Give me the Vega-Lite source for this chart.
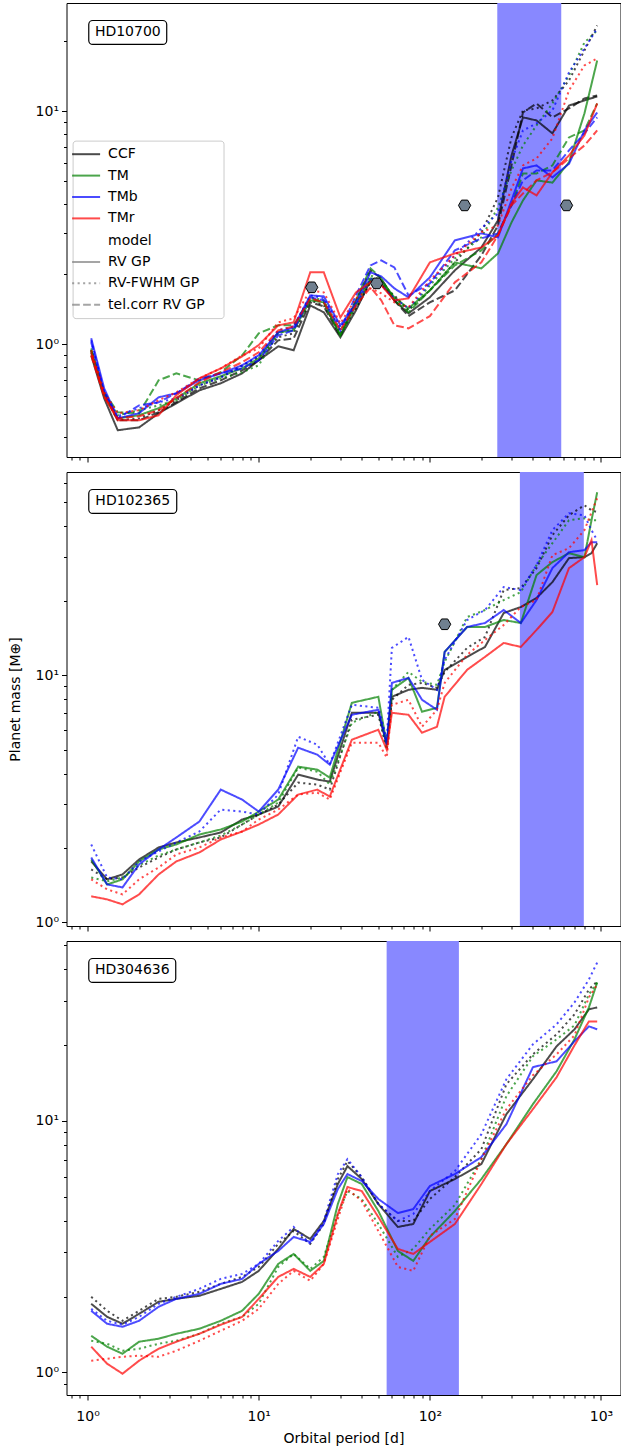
{
"$schema":"https://vega.github.io/schema/vega-lite/v6.json",
"padding":{"left":7.5,"top":2,"right":1,"bottom":2},
"autosize":{"type":"pad"},
"bounds":"flush",
"spacing":15,
"config":{"font":"DejaVu Sans","view":{"stroke":"black","strokeWidth":1},
"axis":{"grid":false,"domain":false,"tickColor":"black","tickWidth":1,"labelColor":"black","labelFontSize":14,"titleFontSize":14,"titleFontWeight":"normal","titleColor":"black","labelFlush":false,"labelOverlap":false}},
"datasets":{
"p1":[
{"p":1.05,"m":0.894,"s":"CCF","g":"r"},{"p":1.25,"m":0.584,"s":"CCF","g":"r"},{"p":1.5,"m":0.426,"s":"CCF","g":"r"},{"p":2,"m":0.438,"s":"CCF","g":"r"},{"p":2.6,"m":0.504,"s":"CCF","g":"r"},{"p":3.3,"m":0.556,"s":"CCF","g":"r"},{"p":4.5,"m":0.632,"s":"CCF","g":"r"},{"p":6,"m":0.678,"s":"CCF","g":"r"},{"p":8,"m":0.748,"s":"CCF","g":"r"},{"p":10,"m":0.851,"s":"CCF","g":"r"},{"p":13,"m":0.977,"s":"CCF","g":"r"},{"p":16,"m":0.94,"s":"CCF","g":"r"},{"p":20,"m":1.466,"s":"CCF","g":"r"},{"p":24,"m":1.369,"s":"CCF","g":"r"},{"p":30,"m":1.069,"s":"CCF","g":"r"},{"p":37,"m":1.396,"s":"CCF","g":"r"},{"p":45,"m":1.878,"s":"CCF","g":"r"},{"p":52,"m":1.823,"s":"CCF","g":"r"},{"p":62,"m":1.541,"s":"CCF","g":"r"},{"p":75,"m":1.355,"s":"CCF","g":"r"},{"p":100,"m":1.588,"s":"CCF","g":"r"},{"p":140,"m":2.074,"s":"CCF","g":"r"},{"p":200,"m":2.603,"s":"CCF","g":"r"},{"p":250,"m":3.401,"s":"CCF","g":"r"},{"p":300,"m":6.47,"s":"CCF","g":"r"},{"p":350,"m":9.43,"s":"CCF","g":"r"},{"p":420,"m":9.15,"s":"CCF","g":"r"},{"p":520,"m":8.05,"s":"CCF","g":"r"},{"p":650,"m":10.6,"s":"CCF","g":"r"},{"p":800,"m":11.15,"s":"CCF","g":"r"},{"p":950,"m":11.6,"s":"CCF","g":"r"},
{"p":1.05,"m":0.921,"s":"CCF","g":"f"},{"p":1.25,"m":0.602,"s":"CCF","g":"f"},{"p":1.5,"m":0.47,"s":"CCF","g":"f"},{"p":2,"m":0.479,"s":"CCF","g":"f"},{"p":2.6,"m":0.519,"s":"CCF","g":"f"},{"p":3.3,"m":0.573,"s":"CCF","g":"f"},{"p":4.5,"m":0.664,"s":"CCF","g":"f"},{"p":6,"m":0.719,"s":"CCF","g":"f"},{"p":8,"m":0.81,"s":"CCF","g":"f"},{"p":10,"m":0.877,"s":"CCF","g":"f"},{"p":13,"m":1.069,"s":"CCF","g":"f"},{"p":16,"m":1.112,"s":"CCF","g":"f"},{"p":20,"m":1.541,"s":"CCF","g":"f"},{"p":24,"m":1.466,"s":"CCF","g":"f"},{"p":30,"m":1.112,"s":"CCF","g":"f"},{"p":37,"m":1.424,"s":"CCF","g":"f"},{"p":45,"m":1.842,"s":"CCF","g":"f"},{"p":52,"m":1.788,"s":"CCF","g":"f"},{"p":62,"m":1.619,"s":"CCF","g":"f"},{"p":75,"m":1.396,"s":"CCF","g":"f"},{"p":100,"m":1.701,"s":"CCF","g":"f"},{"p":140,"m":2.244,"s":"CCF","g":"f"},{"p":200,"m":3.02,"s":"CCF","g":"f"},{"p":250,"m":4.268,"s":"CCF","g":"f"},{"p":300,"m":7.73,"s":"CCF","g":"f"},{"p":350,"m":10.1,"s":"CCF","g":"f"},{"p":420,"m":10.3,"s":"CCF","g":"f"},{"p":520,"m":11.15,"s":"CCF","g":"f"},{"p":650,"m":13.59,"s":"CCF","g":"f"},{"p":800,"m":18.29,"s":"CCF","g":"f"},{"p":950,"m":23.4,"s":"CCF","g":"f"},
{"p":1.05,"m":0.94,"s":"CCF","g":"t"},{"p":1.25,"m":0.614,"s":"CCF","g":"t"},{"p":1.5,"m":0.47,"s":"CCF","g":"t"},{"p":2,"m":0.47,"s":"CCF","g":"t"},{"p":2.6,"m":0.509,"s":"CCF","g":"t"},{"p":3.3,"m":0.562,"s":"CCF","g":"t"},{"p":4.5,"m":0.645,"s":"CCF","g":"t"},{"p":6,"m":0.698,"s":"CCF","g":"t"},{"p":8,"m":0.771,"s":"CCF","g":"t"},{"p":10,"m":0.851,"s":"CCF","g":"t"},{"p":13,"m":1.037,"s":"CCF","g":"t"},{"p":16,"m":1.058,"s":"CCF","g":"t"},{"p":20,"m":1.511,"s":"CCF","g":"t"},{"p":24,"m":1.452,"s":"CCF","g":"t"},{"p":30,"m":1.079,"s":"CCF","g":"t"},{"p":37,"m":1.541,"s":"CCF","g":"t"},{"p":45,"m":2.074,"s":"CCF","g":"t"},{"p":52,"m":1.916,"s":"CCF","g":"t"},{"p":62,"m":1.541,"s":"CCF","g":"t"},{"p":75,"m":1.318,"s":"CCF","g":"t"},{"p":100,"m":1.511,"s":"CCF","g":"t"},{"p":140,"m":1.701,"s":"CCF","g":"t"},{"p":200,"m":2.405,"s":"CCF","g":"t"},{"p":250,"m":3.237,"s":"CCF","g":"t"},{"p":300,"m":5.862,"s":"CCF","g":"t"},{"p":350,"m":9.9,"s":"CCF","g":"t"},{"p":420,"m":10.82,"s":"CCF","g":"t"},{"p":520,"m":9.43,"s":"CCF","g":"t"},{"p":650,"m":10.3,"s":"CCF","g":"t"},{"p":800,"m":11.37,"s":"CCF","g":"t"},{"p":950,"m":11.72,"s":"CCF","g":"t"},
{"p":1.05,"m":0.94,"s":"TM","g":"r"},{"p":1.25,"m":0.602,"s":"TM","g":"r"},{"p":1.5,"m":0.479,"s":"TM","g":"r"},{"p":2,"m":0.494,"s":"TM","g":"r"},{"p":2.6,"m":0.53,"s":"TM","g":"r"},{"p":3.3,"m":0.584,"s":"TM","g":"r"},{"p":4.5,"m":0.678,"s":"TM","g":"r"},{"p":6,"m":0.727,"s":"TM","g":"r"},{"p":8,"m":0.786,"s":"TM","g":"r"},{"p":10,"m":0.868,"s":"TM","g":"r"},{"p":13,"m":1.123,"s":"TM","g":"r"},{"p":16,"m":1.145,"s":"TM","g":"r"},{"p":20,"m":1.541,"s":"TM","g":"r"},{"p":24,"m":1.511,"s":"TM","g":"r"},{"p":30,"m":1.09,"s":"TM","g":"r"},{"p":37,"m":1.466,"s":"TM","g":"r"},{"p":45,"m":1.916,"s":"TM","g":"r"},{"p":52,"m":1.878,"s":"TM","g":"r"},{"p":62,"m":1.588,"s":"TM","g":"r"},{"p":75,"m":1.424,"s":"TM","g":"r"},{"p":100,"m":1.701,"s":"TM","g":"r"},{"p":140,"m":2.244,"s":"TM","g":"r"},{"p":200,"m":2.114,"s":"TM","g":"r"},{"p":250,"m":2.453,"s":"TM","g":"r"},{"p":300,"m":3.334,"s":"TM","g":"r"},{"p":350,"m":4.145,"s":"TM","g":"r"},{"p":420,"m":5.052,"s":"TM","g":"r"},{"p":520,"m":4.943,"s":"TM","g":"r"},{"p":650,"m":6.04,"s":"TM","g":"r"},{"p":800,"m":9.8,"s":"TM","g":"r"},{"p":950,"m":16.56,"s":"TM","g":"r"},
{"p":1.05,"m":0.958,"s":"TM","g":"f"},{"p":1.25,"m":0.62,"s":"TM","g":"f"},{"p":1.5,"m":0.494,"s":"TM","g":"f"},{"p":2,"m":0.519,"s":"TM","g":"f"},{"p":2.6,"m":0.545,"s":"TM","g":"f"},{"p":3.3,"m":0.573,"s":"TM","g":"f"},{"p":4.5,"m":0.664,"s":"TM","g":"f"},{"p":6,"m":0.712,"s":"TM","g":"f"},{"p":8,"m":0.756,"s":"TM","g":"f"},{"p":10,"m":0.81,"s":"TM","g":"f"},{"p":13,"m":1.112,"s":"TM","g":"f"},{"p":16,"m":1.168,"s":"TM","g":"f"},{"p":20,"m":1.588,"s":"TM","g":"f"},{"p":24,"m":1.541,"s":"TM","g":"f"},{"p":30,"m":1.145,"s":"TM","g":"f"},{"p":37,"m":1.496,"s":"TM","g":"f"},{"p":45,"m":1.974,"s":"TM","g":"f"},{"p":52,"m":1.878,"s":"TM","g":"f"},{"p":62,"m":1.588,"s":"TM","g":"f"},{"p":75,"m":1.396,"s":"TM","g":"f"},{"p":100,"m":1.788,"s":"TM","g":"f"},{"p":140,"m":2.335,"s":"TM","g":"f"},{"p":200,"m":2.874,"s":"TM","g":"f"},{"p":250,"m":3.868,"s":"TM","g":"f"},{"p":300,"m":5.578,"s":"TM","g":"f"},{"p":350,"m":7.14,"s":"TM","g":"f"},{"p":420,"m":8.71,"s":"TM","g":"f"},{"p":520,"m":10.82,"s":"TM","g":"f"},{"p":650,"m":14.28,"s":"TM","g":"f"},{"p":800,"m":19.79,"s":"TM","g":"f"},{"p":950,"m":22.29,"s":"TM","g":"f"},
{"p":1.05,"m":0.94,"s":"TM","g":"t"},{"p":1.25,"m":0.62,"s":"TM","g":"t"},{"p":1.5,"m":0.509,"s":"TM","g":"t"},{"p":2,"m":0.504,"s":"TM","g":"t"},{"p":2.6,"m":0.698,"s":"TM","g":"t"},{"p":3.3,"m":0.748,"s":"TM","g":"t"},{"p":4.5,"m":0.698,"s":"TM","g":"t"},{"p":6,"m":0.756,"s":"TM","g":"t"},{"p":8,"m":0.894,"s":"TM","g":"t"},{"p":10,"m":1.112,"s":"TM","g":"t"},{"p":13,"m":1.203,"s":"TM","g":"t"},{"p":16,"m":1.203,"s":"TM","g":"t"},{"p":20,"m":1.572,"s":"TM","g":"t"},{"p":24,"m":1.511,"s":"TM","g":"t"},{"p":30,"m":1.09,"s":"TM","g":"t"},{"p":37,"m":1.541,"s":"TM","g":"t"},{"p":45,"m":2.114,"s":"TM","g":"t"},{"p":52,"m":1.916,"s":"TM","g":"t"},{"p":62,"m":1.541,"s":"TM","g":"t"},{"p":75,"m":1.369,"s":"TM","g":"t"},{"p":100,"m":1.701,"s":"TM","g":"t"},{"p":140,"m":2.178,"s":"TM","g":"t"},{"p":200,"m":2.527,"s":"TM","g":"t"},{"p":250,"m":2.99,"s":"TM","g":"t"},{"p":300,"m":3.946,"s":"TM","g":"t"},{"p":350,"m":5.415,"s":"TM","g":"t"},{"p":420,"m":5.415,"s":"TM","g":"t"},{"p":520,"m":5.862,"s":"TM","g":"t"},{"p":650,"m":7.73,"s":"TM","g":"t"},{"p":800,"m":8.287,"s":"TM","g":"t"},{"p":950,"m":10.82,"s":"TM","g":"t"},
{"p":1.05,"m":1.058,"s":"TMb","g":"r"},{"p":1.25,"m":0.645,"s":"TMb","g":"r"},{"p":1.5,"m":0.479,"s":"TMb","g":"r"},{"p":2,"m":0.504,"s":"TMb","g":"r"},{"p":2.6,"m":0.59,"s":"TMb","g":"r"},{"p":3.3,"m":0.614,"s":"TMb","g":"r"},{"p":4.5,"m":0.698,"s":"TMb","g":"r"},{"p":6,"m":0.748,"s":"TMb","g":"r"},{"p":8,"m":0.81,"s":"TMb","g":"r"},{"p":10,"m":0.894,"s":"TMb","g":"r"},{"p":13,"m":1.123,"s":"TMb","g":"r"},{"p":16,"m":1.18,"s":"TMb","g":"r"},{"p":20,"m":1.619,"s":"TMb","g":"r"},{"p":24,"m":1.603,"s":"TMb","g":"r"},{"p":30,"m":1.203,"s":"TMb","g":"r"},{"p":37,"m":1.496,"s":"TMb","g":"r"},{"p":45,"m":2.033,"s":"TMb","g":"r"},{"p":52,"m":1.954,"s":"TMb","g":"r"},{"p":62,"m":1.735,"s":"TMb","g":"r"},{"p":75,"m":1.588,"s":"TMb","g":"r"},{"p":100,"m":1.935,"s":"TMb","g":"r"},{"p":140,"m":2.791,"s":"TMb","g":"r"},{"p":200,"m":2.99,"s":"TMb","g":"r"},{"p":250,"m":2.874,"s":"TMb","g":"r"},{"p":300,"m":4.145,"s":"TMb","g":"r"},{"p":350,"m":5.69,"s":"TMb","g":"r"},{"p":420,"m":5.862,"s":"TMb","g":"r"},{"p":520,"m":5.205,"s":"TMb","g":"r"},{"p":650,"m":5.955,"s":"TMb","g":"r"},{"p":800,"m":8.287,"s":"TMb","g":"r"},{"p":950,"m":9.9,"s":"TMb","g":"r"},
{"p":1.05,"m":1.037,"s":"TMb","g":"f"},{"p":1.25,"m":0.62,"s":"TMb","g":"f"},{"p":1.5,"m":0.489,"s":"TMb","g":"f"},{"p":2,"m":0.53,"s":"TMb","g":"f"},{"p":2.6,"m":0.562,"s":"TMb","g":"f"},{"p":3.3,"m":0.584,"s":"TMb","g":"f"},{"p":4.5,"m":0.664,"s":"TMb","g":"f"},{"p":6,"m":0.719,"s":"TMb","g":"f"},{"p":8,"m":0.802,"s":"TMb","g":"f"},{"p":10,"m":0.894,"s":"TMb","g":"f"},{"p":13,"m":1.145,"s":"TMb","g":"f"},{"p":16,"m":1.191,"s":"TMb","g":"f"},{"p":20,"m":1.619,"s":"TMb","g":"f"},{"p":24,"m":1.572,"s":"TMb","g":"f"},{"p":30,"m":1.18,"s":"TMb","g":"f"},{"p":37,"m":1.466,"s":"TMb","g":"f"},{"p":45,"m":1.916,"s":"TMb","g":"f"},{"p":52,"m":1.788,"s":"TMb","g":"f"},{"p":62,"m":1.572,"s":"TMb","g":"f"},{"p":75,"m":1.424,"s":"TMb","g":"f"},{"p":100,"m":1.823,"s":"TMb","g":"f"},{"p":140,"m":2.405,"s":"TMb","g":"f"},{"p":200,"m":3.142,"s":"TMb","g":"f"},{"p":250,"m":3.645,"s":"TMb","g":"f"},{"p":300,"m":6.157,"s":"TMb","g":"f"},{"p":350,"m":8.287,"s":"TMb","g":"f"},{"p":420,"m":8.88,"s":"TMb","g":"f"},{"p":520,"m":10.1,"s":"TMb","g":"f"},{"p":650,"m":14.71,"s":"TMb","g":"f"},{"p":800,"m":18.65,"s":"TMb","g":"f"},{"p":950,"m":22.74,"s":"TMb","g":"f"},
{"p":1.05,"m":1.017,"s":"TMb","g":"t"},{"p":1.25,"m":0.62,"s":"TMb","g":"t"},{"p":1.5,"m":0.479,"s":"TMb","g":"t"},{"p":2,"m":0.545,"s":"TMb","g":"t"},{"p":2.6,"m":0.562,"s":"TMb","g":"t"},{"p":3.3,"m":0.614,"s":"TMb","g":"t"},{"p":4.5,"m":0.712,"s":"TMb","g":"t"},{"p":6,"m":0.748,"s":"TMb","g":"t"},{"p":8,"m":0.786,"s":"TMb","g":"t"},{"p":10,"m":0.851,"s":"TMb","g":"t"},{"p":13,"m":1.09,"s":"TMb","g":"t"},{"p":16,"m":1.145,"s":"TMb","g":"t"},{"p":20,"m":1.588,"s":"TMb","g":"t"},{"p":24,"m":1.541,"s":"TMb","g":"t"},{"p":30,"m":1.145,"s":"TMb","g":"t"},{"p":37,"m":1.619,"s":"TMb","g":"t"},{"p":45,"m":2.178,"s":"TMb","g":"t"},{"p":52,"m":2.289,"s":"TMb","g":"t"},{"p":62,"m":2.136,"s":"TMb","g":"t"},{"p":75,"m":1.619,"s":"TMb","g":"t"},{"p":100,"m":1.823,"s":"TMb","g":"t"},{"p":140,"m":2.527,"s":"TMb","g":"t"},{"p":200,"m":2.846,"s":"TMb","g":"t"},{"p":250,"m":2.99,"s":"TMb","g":"t"},{"p":300,"m":3.946,"s":"TMb","g":"t"},{"p":350,"m":5.052,"s":"TMb","g":"t"},{"p":420,"m":5.578,"s":"TMb","g":"t"},{"p":520,"m":5.578,"s":"TMb","g":"t"},{"p":650,"m":6.798,"s":"TMb","g":"t"},{"p":800,"m":8.05,"s":"TMb","g":"t"},{"p":950,"m":9.43,"s":"TMb","g":"t"},
{"p":1.05,"m":0.921,"s":"TMr","g":"r"},{"p":1.25,"m":0.596,"s":"TMr","g":"r"},{"p":1.5,"m":0.47,"s":"TMr","g":"r"},{"p":2,"m":0.47,"s":"TMr","g":"r"},{"p":2.6,"m":0.494,"s":"TMr","g":"r"},{"p":3.3,"m":0.602,"s":"TMr","g":"r"},{"p":4.5,"m":0.712,"s":"TMr","g":"r"},{"p":6,"m":0.786,"s":"TMr","g":"r"},{"p":8,"m":0.885,"s":"TMr","g":"r"},{"p":10,"m":0.99,"s":"TMr","g":"r"},{"p":13,"m":1.203,"s":"TMr","g":"r"},{"p":16,"m":1.24,"s":"TMr","g":"r"},{"p":20,"m":2.033,"s":"TMr","g":"r"},{"p":24,"m":2.033,"s":"TMr","g":"r"},{"p":30,"m":1.3,"s":"TMr","g":"r"},{"p":37,"m":1.668,"s":"TMr","g":"r"},{"p":45,"m":1.842,"s":"TMr","g":"r"},{"p":52,"m":1.788,"s":"TMr","g":"r"},{"p":62,"m":1.541,"s":"TMr","g":"r"},{"p":75,"m":1.572,"s":"TMr","g":"r"},{"p":100,"m":2.244,"s":"TMr","g":"r"},{"p":140,"m":2.453,"s":"TMr","g":"r"},{"p":200,"m":2.603,"s":"TMr","g":"r"},{"p":250,"m":2.932,"s":"TMr","g":"r"},{"p":300,"m":4.024,"s":"TMr","g":"r"},{"p":350,"m":4.714,"s":"TMr","g":"r"},{"p":420,"m":4.355,"s":"TMr","g":"r"},{"p":520,"m":5.47,"s":"TMr","g":"r"},{"p":650,"m":6.47,"s":"TMr","g":"r"},{"p":800,"m":7.88,"s":"TMr","g":"r"},{"p":950,"m":10.82,"s":"TMr","g":"r"},
{"p":1.05,"m":0.94,"s":"TMr","g":"f"},{"p":1.25,"m":0.62,"s":"TMr","g":"f"},{"p":1.5,"m":0.504,"s":"TMr","g":"f"},{"p":2,"m":0.519,"s":"TMr","g":"f"},{"p":2.6,"m":0.573,"s":"TMr","g":"f"},{"p":3.3,"m":0.62,"s":"TMr","g":"f"},{"p":4.5,"m":0.712,"s":"TMr","g":"f"},{"p":6,"m":0.786,"s":"TMr","g":"f"},{"p":8,"m":0.894,"s":"TMr","g":"f"},{"p":10,"m":0.958,"s":"TMr","g":"f"},{"p":13,"m":1.24,"s":"TMr","g":"f"},{"p":16,"m":1.289,"s":"TMr","g":"f"},{"p":20,"m":1.701,"s":"TMr","g":"f"},{"p":24,"m":1.668,"s":"TMr","g":"f"},{"p":30,"m":1.227,"s":"TMr","g":"f"},{"p":37,"m":1.572,"s":"TMr","g":"f"},{"p":45,"m":1.735,"s":"TMr","g":"f"},{"p":52,"m":1.652,"s":"TMr","g":"f"},{"p":62,"m":1.511,"s":"TMr","g":"f"},{"p":75,"m":1.438,"s":"TMr","g":"f"},{"p":100,"m":1.878,"s":"TMr","g":"f"},{"p":140,"m":2.405,"s":"TMr","g":"f"},{"p":200,"m":3.02,"s":"TMr","g":"f"},{"p":250,"m":3.237,"s":"TMr","g":"f"},{"p":300,"m":4.668,"s":"TMr","g":"f"},{"p":350,"m":5.862,"s":"TMr","g":"f"},{"p":420,"m":6.28,"s":"TMr","g":"f"},{"p":520,"m":7.66,"s":"TMr","g":"f"},{"p":650,"m":12.31,"s":"TMr","g":"f"},{"p":800,"m":15.76,"s":"TMr","g":"f"},{"p":950,"m":16.9,"s":"TMr","g":"f"},
{"p":1.05,"m":0.894,"s":"TMr","g":"t"},{"p":1.25,"m":0.596,"s":"TMr","g":"t"},{"p":1.5,"m":0.479,"s":"TMr","g":"t"},{"p":2,"m":0.489,"s":"TMr","g":"t"},{"p":2.6,"m":0.519,"s":"TMr","g":"t"},{"p":3.3,"m":0.584,"s":"TMr","g":"t"},{"p":4.5,"m":0.685,"s":"TMr","g":"t"},{"p":6,"m":0.756,"s":"TMr","g":"t"},{"p":8,"m":0.835,"s":"TMr","g":"t"},{"p":10,"m":0.921,"s":"TMr","g":"t"},{"p":13,"m":1.145,"s":"TMr","g":"t"},{"p":16,"m":1.191,"s":"TMr","g":"t"},{"p":20,"m":1.572,"s":"TMr","g":"t"},{"p":24,"m":1.511,"s":"TMr","g":"t"},{"p":30,"m":1.145,"s":"TMr","g":"t"},{"p":37,"m":1.466,"s":"TMr","g":"t"},{"p":45,"m":1.753,"s":"TMr","g":"t"},{"p":52,"m":1.541,"s":"TMr","g":"t"},{"p":62,"m":1.203,"s":"TMr","g":"t"},{"p":75,"m":1.168,"s":"TMr","g":"t"},{"p":100,"m":1.318,"s":"TMr","g":"t"},{"p":140,"m":1.842,"s":"TMr","g":"t"},{"p":200,"m":2.244,"s":"TMr","g":"t"},{"p":250,"m":2.932,"s":"TMr","g":"t"},{"p":300,"m":3.946,"s":"TMr","g":"t"},{"p":350,"m":4.44,"s":"TMr","g":"t"},{"p":420,"m":5.052,"s":"TMr","g":"t"},{"p":520,"m":5.47,"s":"TMr","g":"t"},{"p":650,"m":6.28,"s":"TMr","g":"t"},{"p":800,"m":7.14,"s":"TMr","g":"t"},{"p":950,"m":8.287,"s":"TMr","g":"t"}
],
"p2":[
{"p":1.05,"m":1.763,"s":"CCF","g":"r"},{"p":1.3,"m":1.492,"s":"CCF","g":"r"},{"p":1.6,"m":1.562,"s":"CCF","g":"r"},{"p":2,"m":1.796,"s":"CCF","g":"r"},{"p":2.6,"m":2.008,"s":"CCF","g":"r"},{"p":3.3,"m":2.104,"s":"CCF","g":"r"},{"p":4.5,"m":2.204,"s":"CCF","g":"r"},{"p":6,"m":2.309,"s":"CCF","g":"r"},{"p":8,"m":2.605,"s":"CCF","g":"r"},{"p":10,"m":2.729,"s":"CCF","g":"r"},{"p":13,"m":2.94,"s":"CCF","g":"r"},{"p":17,"m":3.958,"s":"CCF","g":"r"},{"p":22,"m":3.779,"s":"CCF","g":"r"},{"p":26,"m":3.709,"s":"CCF","g":"r"},{"p":35,"m":7.044,"s":"CCF","g":"r"},{"p":50,"m":7.044,"s":"CCF","g":"r"},{"p":56,"m":5.231,"s":"CCF","g":"r"},{"p":60,"m":8.175,"s":"CCF","g":"r"},{"p":75,"m":8.724,"s":"CCF","g":"r"},{"p":90,"m":8.887,"s":"CCF","g":"r"},{"p":110,"m":8.724,"s":"CCF","g":"r"},{"p":122,"m":10.51,"s":"CCF","g":"r"},{"p":165,"m":11.86,"s":"CCF","g":"r"},{"p":210,"m":13.01,"s":"CCF","g":"r"},{"p":270,"m":17.84,"s":"CCF","g":"r"},{"p":340,"m":18.87,"s":"CCF","g":"r"},{"p":420,"m":20.52,"s":"CCF","g":"r"},{"p":520,"m":23.8,"s":"CCF","g":"r"},{"p":650,"m":29.76,"s":"CCF","g":"r"},{"p":800,"m":30.03,"s":"CCF","g":"r"},{"p":880,"m":31.17,"s":"CCF","g":"r"},{"p":950,"m":34.21,"s":"CCF","g":"r"},
{"p":1.05,"m":1.637,"s":"CCF","g":"f"},{"p":1.3,"m":1.492,"s":"CCF","g":"f"},{"p":1.6,"m":1.519,"s":"CCF","g":"f"},{"p":2,"m":1.667,"s":"CCF","g":"f"},{"p":2.6,"m":1.83,"s":"CCF","g":"f"},{"p":3.3,"m":1.971,"s":"CCF","g":"f"},{"p":4.5,"m":2.104,"s":"CCF","g":"f"},{"p":6,"m":2.204,"s":"CCF","g":"f"},{"p":8,"m":2.487,"s":"CCF","g":"f"},{"p":10,"m":2.729,"s":"CCF","g":"f"},{"p":13,"m":2.995,"s":"CCF","g":"f"},{"p":17,"m":3.674,"s":"CCF","g":"f"},{"p":22,"m":3.607,"s":"CCF","g":"f"},{"p":26,"m":3.443,"s":"CCF","g":"f"},{"p":35,"m":6.601,"s":"CCF","g":"f"},{"p":50,"m":6.914,"s":"CCF","g":"f"},{"p":56,"m":4.994,"s":"CCF","g":"f"},{"p":60,"m":7.95,"s":"CCF","g":"f"},{"p":75,"m":9.138,"s":"CCF","g":"f"},{"p":90,"m":9.309,"s":"CCF","g":"f"},{"p":110,"m":8.887,"s":"CCF","g":"f"},{"p":122,"m":10.31,"s":"CCF","g":"f"},{"p":165,"m":12.89,"s":"CCF","g":"f"},{"p":210,"m":14.28,"s":"CCF","g":"f"},{"p":270,"m":22.1,"s":"CCF","g":"f"},{"p":340,"m":22.51,"s":"CCF","g":"f"},{"p":420,"m":27.12,"s":"CCF","g":"f"},{"p":520,"m":36.85,"s":"CCF","g":"f"},{"p":650,"m":44.38,"s":"CCF","g":"f"},{"p":800,"m":48.7,"s":"CCF","g":"f"},{"p":880,"m":46.49,"s":"CCF","g":"f"},{"p":950,"m":45.64,"s":"CCF","g":"f"},
{"p":1.05,"m":1.796,"s":"TM","g":"r"},{"p":1.3,"m":1.423,"s":"TM","g":"r"},{"p":1.6,"m":1.492,"s":"TM","g":"r"},{"p":2,"m":1.763,"s":"TM","g":"r"},{"p":2.6,"m":1.971,"s":"TM","g":"r"},{"p":3.3,"m":2.065,"s":"TM","g":"r"},{"p":4.5,"m":2.266,"s":"TM","g":"r"},{"p":6,"m":2.374,"s":"TM","g":"r"},{"p":8,"m":2.557,"s":"TM","g":"r"},{"p":10,"m":2.806,"s":"TM","g":"r"},{"p":13,"m":3.137,"s":"TM","g":"r"},{"p":17,"m":4.264,"s":"TM","g":"r"},{"p":22,"m":4.147,"s":"TM","g":"r"},{"p":26,"m":3.849,"s":"TM","g":"r"},{"p":35,"m":7.73,"s":"TM","g":"r"},{"p":50,"m":8.175,"s":"TM","g":"r"},{"p":56,"m":5.231,"s":"TM","g":"r"},{"p":60,"m":8.724,"s":"TM","g":"r"},{"p":75,"m":9.752,"s":"TM","g":"r"},{"p":90,"m":7.11,"s":"TM","g":"r"},{"p":110,"m":7.379,"s":"TM","g":"r"},{"p":122,"m":12.42,"s":"TM","g":"r"},{"p":165,"m":15.67,"s":"TM","g":"r"},{"p":210,"m":15.67,"s":"TM","g":"r"},{"p":270,"m":16.72,"s":"TM","g":"r"},{"p":340,"m":16.26,"s":"TM","g":"r"},{"p":420,"m":25.41,"s":"TM","g":"r"},{"p":520,"m":28.67,"s":"TM","g":"r"},{"p":650,"m":31.17,"s":"TM","g":"r"},{"p":800,"m":30.03,"s":"TM","g":"r"},{"p":880,"m":42.36,"s":"TM","g":"r"},{"p":950,"m":54.95,"s":"TM","g":"r"},
{"p":1.05,"m":1.519,"s":"TM","g":"f"},{"p":1.3,"m":1.464,"s":"TM","g":"f"},{"p":1.6,"m":1.519,"s":"TM","g":"f"},{"p":2,"m":1.699,"s":"TM","g":"f"},{"p":2.6,"m":1.864,"s":"TM","g":"f"},{"p":3.3,"m":1.971,"s":"TM","g":"f"},{"p":4.5,"m":2.104,"s":"TM","g":"f"},{"p":6,"m":2.245,"s":"TM","g":"f"},{"p":8,"m":2.487,"s":"TM","g":"f"},{"p":10,"m":2.729,"s":"TM","g":"f"},{"p":13,"m":3.051,"s":"TM","g":"f"},{"p":17,"m":4.224,"s":"TM","g":"f"},{"p":22,"m":4.07,"s":"TM","g":"f"},{"p":26,"m":3.607,"s":"TM","g":"f"},{"p":35,"m":6.42,"s":"TM","g":"f"},{"p":50,"m":7.11,"s":"TM","g":"f"},{"p":56,"m":5.087,"s":"TM","g":"f"},{"p":60,"m":8.724,"s":"TM","g":"f"},{"p":75,"m":10.31,"s":"TM","g":"f"},{"p":90,"m":9.396,"s":"TM","g":"f"},{"p":110,"m":9.138,"s":"TM","g":"f"},{"p":122,"m":11.31,"s":"TM","g":"f"},{"p":165,"m":17.19,"s":"TM","g":"f"},{"p":210,"m":18.35,"s":"TM","g":"f"},{"p":270,"m":20.14,"s":"TM","g":"f"},{"p":340,"m":21.69,"s":"TM","g":"f"},{"p":420,"m":27.88,"s":"TM","g":"f"},{"p":520,"m":34.21,"s":"TM","g":"f"},{"p":650,"m":42.36,"s":"TM","g":"f"},{"p":800,"m":43.15,"s":"TM","g":"f"},{"p":880,"m":42.36,"s":"TM","g":"f"},{"p":950,"m":42.36,"s":"TM","g":"f"},
{"p":1.05,"m":1.83,"s":"TMb","g":"r"},{"p":1.3,"m":1.423,"s":"TMb","g":"r"},{"p":1.6,"m":1.384,"s":"TMb","g":"r"},{"p":2,"m":1.715,"s":"TMb","g":"r"},{"p":2.6,"m":1.971,"s":"TMb","g":"r"},{"p":3.3,"m":2.204,"s":"TMb","g":"r"},{"p":4.5,"m":2.557,"s":"TMb","g":"r"},{"p":6,"m":3.443,"s":"TMb","g":"r"},{"p":8,"m":3.137,"s":"TMb","g":"r"},{"p":10,"m":2.806,"s":"TMb","g":"r"},{"p":13,"m":3.443,"s":"TMb","g":"r"},{"p":17,"m":5.087,"s":"TMb","g":"r"},{"p":22,"m":4.767,"s":"TMb","g":"r"},{"p":26,"m":4.344,"s":"TMb","g":"r"},{"p":35,"m":6.914,"s":"TMb","g":"r"},{"p":50,"m":7.244,"s":"TMb","g":"r"},{"p":56,"m":5.231,"s":"TMb","g":"r"},{"p":60,"m":9.309,"s":"TMb","g":"r"},{"p":75,"m":9.752,"s":"TMb","g":"r"},{"p":90,"m":7.95,"s":"TMb","g":"r"},{"p":110,"m":7.244,"s":"TMb","g":"r"},{"p":122,"m":12.42,"s":"TMb","g":"r"},{"p":165,"m":15.67,"s":"TMb","g":"r"},{"p":210,"m":16.26,"s":"TMb","g":"r"},{"p":270,"m":18.35,"s":"TMb","g":"r"},{"p":340,"m":16.26,"s":"TMb","g":"r"},{"p":420,"m":20.14,"s":"TMb","g":"r"},{"p":520,"m":27.12,"s":"TMb","g":"r"},{"p":650,"m":31.45,"s":"TMb","g":"r"},{"p":800,"m":32.05,"s":"TMb","g":"r"},{"p":880,"m":34.52,"s":"TMb","g":"r"},{"p":950,"m":34.52,"s":"TMb","g":"r"},
{"p":1.05,"m":2.065,"s":"TMb","g":"f"},{"p":1.3,"m":1.519,"s":"TMb","g":"f"},{"p":1.6,"m":1.492,"s":"TMb","g":"f"},{"p":2,"m":1.763,"s":"TMb","g":"f"},{"p":2.6,"m":1.935,"s":"TMb","g":"f"},{"p":3.3,"m":2.104,"s":"TMb","g":"f"},{"p":4.5,"m":2.33,"s":"TMb","g":"f"},{"p":6,"m":2.859,"s":"TMb","g":"f"},{"p":8,"m":2.806,"s":"TMb","g":"f"},{"p":10,"m":2.729,"s":"TMb","g":"f"},{"p":13,"m":3.287,"s":"TMb","g":"f"},{"p":17,"m":5.634,"s":"TMb","g":"f"},{"p":22,"m":5.231,"s":"TMb","g":"f"},{"p":26,"m":4.344,"s":"TMb","g":"f"},{"p":35,"m":7.588,"s":"TMb","g":"f"},{"p":50,"m":7.379,"s":"TMb","g":"f"},{"p":56,"m":5.481,"s":"TMb","g":"f"},{"p":60,"m":12.89,"s":"TMb","g":"f"},{"p":75,"m":14.28,"s":"TMb","g":"f"},{"p":90,"m":9.573,"s":"TMb","g":"f"},{"p":110,"m":8.724,"s":"TMb","g":"f"},{"p":122,"m":11.53,"s":"TMb","g":"f"},{"p":165,"m":16.72,"s":"TMb","g":"f"},{"p":210,"m":18.35,"s":"TMb","g":"f"},{"p":270,"m":22.73,"s":"TMb","g":"f"},{"p":340,"m":22.1,"s":"TMb","g":"f"},{"p":420,"m":27.88,"s":"TMb","g":"f"},{"p":520,"m":38.61,"s":"TMb","g":"f"},{"p":650,"m":45.2,"s":"TMb","g":"f"},{"p":800,"m":44.38,"s":"TMb","g":"f"},{"p":880,"m":38.61,"s":"TMb","g":"f"},{"p":950,"m":35.18,"s":"TMb","g":"f"},
{"p":1.05,"m":1.274,"s":"TMr","g":"r"},{"p":1.3,"m":1.238,"s":"TMr","g":"r"},{"p":1.6,"m":1.182,"s":"TMr","g":"r"},{"p":2,"m":1.297,"s":"TMr","g":"r"},{"p":2.6,"m":1.562,"s":"TMr","g":"r"},{"p":3.3,"m":1.763,"s":"TMr","g":"r"},{"p":4.5,"m":1.917,"s":"TMr","g":"r"},{"p":6,"m":2.163,"s":"TMr","g":"r"},{"p":8,"m":2.33,"s":"TMr","g":"r"},{"p":10,"m":2.487,"s":"TMr","g":"r"},{"p":13,"m":2.729,"s":"TMr","g":"r"},{"p":17,"m":3.287,"s":"TMr","g":"r"},{"p":22,"m":3.443,"s":"TMr","g":"r"},{"p":26,"m":3.226,"s":"TMr","g":"r"},{"p":35,"m":5.481,"s":"TMr","g":"r"},{"p":50,"m":6.015,"s":"TMr","g":"r"},{"p":56,"m":4.994,"s":"TMr","g":"r"},{"p":60,"m":7.044,"s":"TMr","g":"r"},{"p":75,"m":6.914,"s":"TMr","g":"r"},{"p":90,"m":5.849,"s":"TMr","g":"r"},{"p":110,"m":6.184,"s":"TMr","g":"r"},{"p":122,"m":8.175,"s":"TMr","g":"r"},{"p":165,"m":10.51,"s":"TMr","g":"r"},{"p":210,"m":11.86,"s":"TMr","g":"r"},{"p":270,"m":13.5,"s":"TMr","g":"r"},{"p":340,"m":13.01,"s":"TMr","g":"r"},{"p":420,"m":15.24,"s":"TMr","g":"r"},{"p":520,"m":18.01,"s":"TMr","g":"r"},{"p":650,"m":27.12,"s":"TMr","g":"r"},{"p":800,"m":30.03,"s":"TMr","g":"r"},{"p":880,"m":35.18,"s":"TMr","g":"r"},{"p":950,"m":23.15,"s":"TMr","g":"r"},
{"p":1.05,"m":1.492,"s":"TMr","g":"f"},{"p":1.3,"m":1.359,"s":"TMr","g":"f"},{"p":1.6,"m":1.297,"s":"TMr","g":"f"},{"p":2,"m":1.492,"s":"TMr","g":"f"},{"p":2.6,"m":1.667,"s":"TMr","g":"f"},{"p":3.3,"m":1.882,"s":"TMr","g":"f"},{"p":4.5,"m":2.008,"s":"TMr","g":"f"},{"p":6,"m":2.204,"s":"TMr","g":"f"},{"p":8,"m":2.33,"s":"TMr","g":"f"},{"p":10,"m":2.605,"s":"TMr","g":"f"},{"p":13,"m":2.859,"s":"TMr","g":"f"},{"p":17,"m":3.287,"s":"TMr","g":"f"},{"p":22,"m":3.348,"s":"TMr","g":"f"},{"p":26,"m":3.137,"s":"TMr","g":"f"},{"p":35,"m":5.33,"s":"TMr","g":"f"},{"p":50,"m":5.33,"s":"TMr","g":"f"},{"p":56,"m":4.637,"s":"TMr","g":"f"},{"p":60,"m":7.588,"s":"TMr","g":"f"},{"p":75,"m":7.95,"s":"TMr","g":"f"},{"p":90,"m":6.184,"s":"TMr","g":"f"},{"p":110,"m":7.244,"s":"TMr","g":"f"},{"p":122,"m":9.309,"s":"TMr","g":"f"},{"p":165,"m":12.08,"s":"TMr","g":"f"},{"p":210,"m":13.88,"s":"TMr","g":"f"},{"p":270,"m":15.96,"s":"TMr","g":"f"},{"p":340,"m":18.87,"s":"TMr","g":"f"},{"p":420,"m":20.14,"s":"TMr","g":"f"},{"p":520,"m":30.59,"s":"TMr","g":"f"},{"p":650,"m":32.65,"s":"TMr","g":"f"},{"p":800,"m":38.61,"s":"TMr","g":"f"},{"p":880,"m":45.64,"s":"TMr","g":"f"},{"p":950,"m":51.97,"s":"TMr","g":"f"}
],
"p3":[
{"p":1.05,"m":1.874,"s":"CCF","g":"r"},{"p":1.3,"m":1.663,"s":"CCF","g":"r"},{"p":1.6,"m":1.561,"s":"CCF","g":"r"},{"p":2,"m":1.71,"s":"CCF","g":"r"},{"p":2.6,"m":1.908,"s":"CCF","g":"r"},{"p":3.3,"m":1.961,"s":"CCF","g":"r"},{"p":4.5,"m":2.016,"s":"CCF","g":"r"},{"p":6,"m":2.148,"s":"CCF","g":"r"},{"p":8,"m":2.291,"s":"CCF","g":"r"},{"p":10,"m":2.533,"s":"CCF","g":"r"},{"p":13,"m":3.096,"s":"CCF","g":"r"},{"p":16,"m":3.717,"s":"CCF","g":"r"},{"p":20,"m":3.393,"s":"CCF","g":"r"},{"p":24,"m":3.999,"s":"CCF","g":"r"},{"p":29,"m":5.609,"s":"CCF","g":"r"},{"p":33,"m":6.61,"s":"CCF","g":"r"},{"p":40,"m":5.871,"s":"CCF","g":"r"},{"p":50,"m":4.671,"s":"CCF","g":"r"},{"p":65,"m":3.786,"s":"CCF","g":"r"},{"p":80,"m":3.891,"s":"CCF","g":"r"},{"p":100,"m":5.26,"s":"CCF","g":"r"},{"p":140,"m":5.871,"s":"CCF","g":"r"},{"p":200,"m":6.732,"s":"CCF","g":"r"},{"p":280,"m":10.63,"s":"CCF","g":"r"},{"p":400,"m":14.64,"s":"CCF","g":"r"},{"p":550,"m":19.79,"s":"CCF","g":"r"},{"p":700,"m":23.12,"s":"CCF","g":"r"},{"p":850,"m":27.76,"s":"CCF","g":"r"},{"p":950,"m":28.27,"s":"CCF","g":"r"},
{"p":1.05,"m":1.997,"s":"CCF","g":"f"},{"p":1.3,"m":1.758,"s":"CCF","g":"f"},{"p":1.6,"m":1.604,"s":"CCF","g":"f"},{"p":2,"m":1.758,"s":"CCF","g":"f"},{"p":2.6,"m":1.961,"s":"CCF","g":"f"},{"p":3.3,"m":1.997,"s":"CCF","g":"f"},{"p":4.5,"m":2.091,"s":"CCF","g":"f"},{"p":6,"m":2.249,"s":"CCF","g":"f"},{"p":8,"m":2.397,"s":"CCF","g":"f"},{"p":10,"m":2.627,"s":"CCF","g":"f"},{"p":13,"m":3.242,"s":"CCF","g":"f"},{"p":16,"m":3.65,"s":"CCF","g":"f"},{"p":20,"m":3.242,"s":"CCF","g":"f"},{"p":24,"m":3.891,"s":"CCF","g":"f"},{"p":29,"m":5.871,"s":"CCF","g":"f"},{"p":33,"m":6.919,"s":"CCF","g":"f"},{"p":40,"m":5.979,"s":"CCF","g":"f"},{"p":50,"m":4.671,"s":"CCF","g":"f"},{"p":65,"m":3.999,"s":"CCF","g":"f"},{"p":80,"m":3.999,"s":"CCF","g":"f"},{"p":100,"m":4.891,"s":"CCF","g":"f"},{"p":140,"m":5.979,"s":"CCF","g":"f"},{"p":200,"m":7.721,"s":"CCF","g":"f"},{"p":280,"m":13.98,"s":"CCF","g":"f"},{"p":400,"m":18.39,"s":"CCF","g":"f"},{"p":550,"m":22.08,"s":"CCF","g":"f"},{"p":700,"m":26.51,"s":"CCF","g":"f"},{"p":850,"m":33.31,"s":"CCF","g":"f"},{"p":950,"m":35.84,"s":"CCF","g":"f"},
{"p":1.05,"m":1.398,"s":"TM","g":"r"},{"p":1.3,"m":1.265,"s":"TM","g":"r"},{"p":1.6,"m":1.186,"s":"TM","g":"r"},{"p":2,"m":1.324,"s":"TM","g":"r"},{"p":2.6,"m":1.361,"s":"TM","g":"r"},{"p":3.3,"m":1.424,"s":"TM","g":"r"},{"p":4.5,"m":1.491,"s":"TM","g":"r"},{"p":6,"m":1.604,"s":"TM","g":"r"},{"p":8,"m":1.758,"s":"TM","g":"r"},{"p":10,"m":2.053,"s":"TM","g":"r"},{"p":13,"m":2.7,"s":"TM","g":"r"},{"p":16,"m":2.958,"s":"TM","g":"r"},{"p":20,"m":2.533,"s":"TM","g":"r"},{"p":24,"m":2.775,"s":"TM","g":"r"},{"p":29,"m":4.671,"s":"TM","g":"r"},{"p":33,"m":5.979,"s":"TM","g":"r"},{"p":40,"m":5.609,"s":"TM","g":"r"},{"p":50,"m":4.381,"s":"TM","g":"r"},{"p":65,"m":3.04,"s":"TM","g":"r"},{"p":80,"m":2.775,"s":"TM","g":"r"},{"p":100,"m":3.455,"s":"TM","g":"r"},{"p":140,"m":4.381,"s":"TM","g":"r"},{"p":200,"m":5.871,"s":"TM","g":"r"},{"p":280,"m":8.081,"s":"TM","g":"r"},{"p":400,"m":11.65,"s":"TM","g":"r"},{"p":550,"m":15.75,"s":"TM","g":"r"},{"p":700,"m":21.1,"s":"TM","g":"r"},{"p":850,"m":28.27,"s":"TM","g":"r"},{"p":950,"m":35.51,"s":"TM","g":"r"},
{"p":1.05,"m":1.336,"s":"TM","g":"f"},{"p":1.3,"m":1.3,"s":"TM","g":"f"},{"p":1.6,"m":1.219,"s":"TM","g":"f"},{"p":2,"m":1.242,"s":"TM","g":"f"},{"p":2.6,"m":1.3,"s":"TM","g":"f"},{"p":3.3,"m":1.336,"s":"TM","g":"f"},{"p":4.5,"m":1.424,"s":"TM","g":"f"},{"p":6,"m":1.561,"s":"TM","g":"f"},{"p":8,"m":1.663,"s":"TM","g":"f"},{"p":10,"m":1.874,"s":"TM","g":"f"},{"p":13,"m":2.627,"s":"TM","g":"f"},{"p":16,"m":2.958,"s":"TM","g":"f"},{"p":20,"m":2.579,"s":"TM","g":"f"},{"p":24,"m":2.878,"s":"TM","g":"f"},{"p":29,"m":4.263,"s":"TM","g":"f"},{"p":33,"m":5.26,"s":"TM","g":"f"},{"p":40,"m":4.891,"s":"TM","g":"f"},{"p":50,"m":3.891,"s":"TM","g":"f"},{"p":65,"m":2.878,"s":"TM","g":"f"},{"p":80,"m":3.096,"s":"TM","g":"f"},{"p":100,"m":3.717,"s":"TM","g":"f"},{"p":140,"m":4.629,"s":"TM","g":"f"},{"p":200,"m":7.047,"s":"TM","g":"f"},{"p":280,"m":12.53,"s":"TM","g":"f"},{"p":400,"m":18.06,"s":"TM","g":"f"},{"p":550,"m":21.1,"s":"TM","g":"f"},{"p":700,"m":23.98,"s":"TM","g":"f"},{"p":850,"m":31.83,"s":"TM","g":"f"},{"p":950,"m":35.51,"s":"TM","g":"f"},
{"p":1.05,"m":1.758,"s":"TMb","g":"r"},{"p":1.3,"m":1.561,"s":"TMb","g":"r"},{"p":1.6,"m":1.518,"s":"TMb","g":"r"},{"p":2,"m":1.604,"s":"TMb","g":"r"},{"p":2.6,"m":1.823,"s":"TMb","g":"r"},{"p":3.3,"m":1.961,"s":"TMb","g":"r"},{"p":4.5,"m":2.053,"s":"TMb","g":"r"},{"p":6,"m":2.249,"s":"TMb","g":"r"},{"p":8,"m":2.354,"s":"TMb","g":"r"},{"p":10,"m":2.7,"s":"TMb","g":"r"},{"p":13,"m":3.04,"s":"TMb","g":"r"},{"p":16,"m":3.455,"s":"TMb","g":"r"},{"p":20,"m":3.301,"s":"TMb","g":"r"},{"p":24,"m":3.891,"s":"TMb","g":"r"},{"p":29,"m":5.358,"s":"TMb","g":"r"},{"p":33,"m":6.145,"s":"TMb","g":"r"},{"p":40,"m":5.765,"s":"TMb","g":"r"},{"p":50,"m":4.891,"s":"TMb","g":"r"},{"p":65,"m":4.302,"s":"TMb","g":"r"},{"p":80,"m":4.462,"s":"TMb","g":"r"},{"p":100,"m":5.507,"s":"TMb","g":"r"},{"p":140,"m":6.145,"s":"TMb","g":"r"},{"p":200,"m":7.177,"s":"TMb","g":"r"},{"p":280,"m":9.703,"s":"TMb","g":"r"},{"p":400,"m":16.34,"s":"TMb","g":"r"},{"p":550,"m":17.26,"s":"TMb","g":"r"},{"p":700,"m":20.72,"s":"TMb","g":"r"},{"p":850,"m":23.76,"s":"TMb","g":"r"},{"p":950,"m":23.12,"s":"TMb","g":"r"},
{"p":1.05,"m":1.789,"s":"TMb","g":"f"},{"p":1.3,"m":1.604,"s":"TMb","g":"f"},{"p":1.6,"m":1.546,"s":"TMb","g":"f"},{"p":2,"m":1.663,"s":"TMb","g":"f"},{"p":2.6,"m":1.874,"s":"TMb","g":"f"},{"p":3.3,"m":1.997,"s":"TMb","g":"f"},{"p":4.5,"m":2.148,"s":"TMb","g":"f"},{"p":6,"m":2.354,"s":"TMb","g":"f"},{"p":8,"m":2.464,"s":"TMb","g":"f"},{"p":10,"m":2.7,"s":"TMb","g":"f"},{"p":13,"m":3.331,"s":"TMb","g":"f"},{"p":16,"m":3.786,"s":"TMb","g":"f"},{"p":20,"m":3.242,"s":"TMb","g":"f"},{"p":24,"m":3.999,"s":"TMb","g":"f"},{"p":29,"m":6.145,"s":"TMb","g":"f"},{"p":33,"m":7.047,"s":"TMb","g":"f"},{"p":40,"m":5.979,"s":"TMb","g":"f"},{"p":50,"m":4.671,"s":"TMb","g":"f"},{"p":65,"m":3.999,"s":"TMb","g":"f"},{"p":80,"m":4.263,"s":"TMb","g":"f"},{"p":100,"m":5.26,"s":"TMb","g":"f"},{"p":140,"m":6.316,"s":"TMb","g":"f"},{"p":200,"m":8.855,"s":"TMb","g":"f"},{"p":280,"m":14.64,"s":"TMb","g":"f"},{"p":400,"m":20.15,"s":"TMb","g":"f"},{"p":550,"m":24.19,"s":"TMb","g":"f"},{"p":700,"m":29.58,"s":"TMb","g":"f"},{"p":850,"m":36.5,"s":"TMb","g":"f"},{"p":950,"m":42.63,"s":"TMb","g":"f"},
{"p":1.05,"m":1.265,"s":"TMr","g":"r"},{"p":1.3,"m":1.083,"s":"TMr","g":"r"},{"p":1.6,"m":0.988,"s":"TMr","g":"r"},{"p":2,"m":1.113,"s":"TMr","g":"r"},{"p":2.6,"m":1.242,"s":"TMr","g":"r"},{"p":3.3,"m":1.324,"s":"TMr","g":"r"},{"p":4.5,"m":1.424,"s":"TMr","g":"r"},{"p":6,"m":1.546,"s":"TMr","g":"r"},{"p":8,"m":1.663,"s":"TMr","g":"r"},{"p":10,"m":1.961,"s":"TMr","g":"r"},{"p":13,"m":2.397,"s":"TMr","g":"r"},{"p":16,"m":2.579,"s":"TMr","g":"r"},{"p":20,"m":2.397,"s":"TMr","g":"r"},{"p":24,"m":2.7,"s":"TMr","g":"r"},{"p":29,"m":4.263,"s":"TMr","g":"r"},{"p":33,"m":5.457,"s":"TMr","g":"r"},{"p":40,"m":5.26,"s":"TMr","g":"r"},{"p":50,"m":4.147,"s":"TMr","g":"r"},{"p":65,"m":3.096,"s":"TMr","g":"r"},{"p":80,"m":2.958,"s":"TMr","g":"r"},{"p":100,"m":3.301,"s":"TMr","g":"r"},{"p":140,"m":3.891,"s":"TMr","g":"r"},{"p":200,"m":5.609,"s":"TMr","g":"r"},{"p":280,"m":8.081,"s":"TMr","g":"r"},{"p":400,"m":11.13,"s":"TMr","g":"r"},{"p":550,"m":14.91,"s":"TMr","g":"r"},{"p":700,"m":19.97,"s":"TMr","g":"r"},{"p":850,"m":24.86,"s":"TMr","g":"r"},{"p":950,"m":24.86,"s":"TMr","g":"r"},
{"p":1.05,"m":1.113,"s":"TMr","g":"f"},{"p":1.3,"m":1.133,"s":"TMr","g":"f"},{"p":1.6,"m":1.154,"s":"TMr","g":"f"},{"p":2,"m":1.165,"s":"TMr","g":"f"},{"p":2.6,"m":1.154,"s":"TMr","g":"f"},{"p":3.3,"m":1.219,"s":"TMr","g":"f"},{"p":4.5,"m":1.336,"s":"TMr","g":"f"},{"p":6,"m":1.464,"s":"TMr","g":"f"},{"p":8,"m":1.604,"s":"TMr","g":"f"},{"p":10,"m":1.789,"s":"TMr","g":"f"},{"p":13,"m":2.249,"s":"TMr","g":"f"},{"p":16,"m":2.533,"s":"TMr","g":"f"},{"p":20,"m":2.311,"s":"TMr","g":"f"},{"p":24,"m":2.7,"s":"TMr","g":"f"},{"p":29,"m":4.072,"s":"TMr","g":"f"},{"p":33,"m":5.358,"s":"TMr","g":"f"},{"p":40,"m":4.801,"s":"TMr","g":"f"},{"p":50,"m":3.65,"s":"TMr","g":"f"},{"p":65,"m":2.627,"s":"TMr","g":"f"},{"p":80,"m":2.533,"s":"TMr","g":"f"},{"p":100,"m":3.486,"s":"TMr","g":"f"},{"p":140,"m":4.072,"s":"TMr","g":"f"},{"p":200,"m":7.047,"s":"TMr","g":"f"},{"p":280,"m":11.13,"s":"TMr","g":"f"},{"p":400,"m":15.18,"s":"TMr","g":"f"},{"p":550,"m":18.39,"s":"TMr","g":"f"},{"p":700,"m":21.88,"s":"TMr","g":"f"},{"p":850,"m":30.96,"s":"TMr","g":"f"},{"p":950,"m":34.86,"s":"TMr","g":"f"}
]
},
"vconcat":[
{"width":554,"height":454,
"resolve":{"axis":{"x":"independent","y":"independent"}},
"layer":[
{"data":{"values":[{"p":247.7,"p2":585.7}]},"mark":{"type":"rect","color":"#8888ff"},"encoding":{"x":{"field":"p","type":"quantitative","axis":null},"x2":{"field":"p2"}}},
{"data":{"name":"p1"},"mark":{"type":"line","strokeWidth":2,"opacity":0.7},
"encoding":{
"x":{"field":"p","type":"quantitative","scale":{"type":"log","domain":[0.753,1300],"nice":false},"axis":{"orient":"bottom","values":[1,10,100,1000],"labels":false,"title":null,"tickSize":5}},
"y":{"field":"m","type":"quantitative","scale":{"type":"log","domain":[0.3268,29.26],"nice":false},"axis":{"orient":"left","values":[1,10],"labelExpr":"datum.value==1?'10⁰':'10¹'","labelPadding":3,"title":null,"tickSize":5}},
"color":{"field":"s","type":"nominal","scale":{"domain":["CCF","TM","TMb","TMr"],"range":["black","green","blue","red"]},
"legend":{"orient":"none","legendX":6.6,"legendY":138.2,"title":null,"symbolType":"M-2,0H2","symbolSize":196,"symbolStrokeWidth":2,"labelFontSize":14,"labelColor":"black","labelOffset":14,"rowPadding":6.4,"padding":5}},
"strokeDash":{"field":"g","type":"nominal","scale":{"domain":["m","r","f","t"],"range":[[0,100],[1,0],[2.1,3.4],[7.7,3.3]]},
"legend":{"orient":"none","legendX":6.6,"legendY":224.5,"title":null,"symbolType":"M-2,0H2","symbolSize":196,"symbolStrokeWidth":2,"symbolStrokeColor":"gray","symbolOpacity":0.7,"labelFontSize":14,"labelColor":"black","labelOffset":14,"rowPadding":6.4,"padding":5,
"labelExpr":"datum.label=='m'?'model':datum.label=='r'?'RV GP':datum.label=='f'?'RV-FWHM GP':'tel.corr RV GP'"}}
}},
{"data":{"values":[{"p":20.4,"m":1.753},{"p":48.9,"m":1.823},{"p":159.6,"m":3.945},{"p":629,"m":3.945}]},"mark":{"type":"point","shape":"M-1,0L-0.5,-0.866L0.5,-0.866L1,0L0.5,0.866L-0.5,0.866Z","filled":true,"fill":"#708090","stroke":"black","strokeWidth":1,"size":150,"opacity":1},"encoding":{"x":{"field":"p","type":"quantitative","axis":null},"y":{"field":"m","type":"quantitative","axis":null}}},
{"data":{"values":[{"t":"legend box"}]},"mark":{"type":"rect","fill":"white","stroke":"#cccccc","strokeWidth":1,"cornerRadius":3},"encoding":{"x":{"datum":0.823,"type":"quantitative","axis":null},"x2":{"datum":6.27},"y":{"datum":7.455,"type":"quantitative","axis":null},"y2":{"datum":1.286}}},
{"data":{"values":[{"t":"HD10700"}]},"mark":{"type":"rect","fill":"white","stroke":"black","strokeWidth":1.2,"cornerRadius":4},"encoding":{"x":{"datum":1.016,"type":"quantitative","axis":null},"x2":{"datum":2.9},"y":{"datum":24.61,"type":"quantitative","axis":null},"y2":{"datum":19.41}}},
{"data":{"values":[{"t":"HD10700"}]},"mark":{"type":"text","fontSize":14,"color":"black","align":"center","baseline":"middle"},"encoding":{
"x":{"datum":1.718,"type":"quantitative","axis":{"orient":"bottom","values":[0.8,0.9,2,3,4,5,6,7,8,9,20,30,40,50,60,70,80,90,200,300,400,500,600,700,800,900],"labels":false,"title":null,"tickSize":3}},
"y":{"datum":21.85,"type":"quantitative","axis":{"orient":"left","values":[0.4,0.5,0.6,0.7,0.8,0.9,2,3,4,5,6,7,8,9,20],"labels":false,"title":null,"tickSize":3}},
"text":{"field":"t"}}}
]},
{"width":554,"height":454,
"resolve":{"axis":{"x":"independent","y":"independent"}},
"layer":[
{"data":{"values":[{"p":335.7,"p2":793.5}]},"mark":{"type":"rect","color":"#8888ff"},"encoding":{"x":{"field":"p","type":"quantitative","axis":null},"x2":{"field":"p2"}}},
{"data":{"name":"p2"},"mark":{"type":"line","strokeWidth":2,"opacity":0.7},
"encoding":{
"x":{"field":"p","type":"quantitative","scale":{"type":"log","domain":[0.753,1300],"nice":false},"axis":{"orient":"bottom","values":[1,10,100,1000],"labels":false,"title":null,"tickSize":5}},
"y":{"field":"m","type":"quantitative","scale":{"type":"log","domain":[0.966,66.4],"nice":false},"axis":{"orient":"left","values":[1,10],"labelExpr":"datum.value==1?'10⁰':'10¹'","labelPadding":3,"title":"Planet mass [M⊕]","titlePadding":12.5,"tickSize":5}},
"color":{"field":"s","type":"nominal","legend":null},
"strokeDash":{"field":"g","type":"nominal","legend":null}
}},
{"data":{"values":[{"p":122,"m":16.07}]},"mark":{"type":"point","shape":"M-1,0L-0.5,-0.866L0.5,-0.866L1,0L0.5,0.866L-0.5,0.866Z","filled":true,"fill":"#708090","stroke":"black","strokeWidth":1,"size":150,"opacity":1},"encoding":{"x":{"field":"p","type":"quantitative","axis":null},"y":{"field":"m","type":"quantitative","axis":null}}},
{"data":{"values":[{"t":"HD102365"}]},"mark":{"type":"rect","fill":"white","stroke":"black","strokeWidth":1.2,"cornerRadius":4},"encoding":{"x":{"datum":1.016,"type":"quantitative","axis":null},"x2":{"datum":3.318},"y":{"datum":56.4,"type":"quantitative","axis":null},"y2":{"datum":45.12}}},
{"data":{"values":[{"t":"HD102365"}]},"mark":{"type":"text","fontSize":14,"color":"black","align":"center","baseline":"middle"},"encoding":{
"x":{"datum":1.836,"type":"quantitative","axis":{"orient":"bottom","values":[0.8,0.9,2,3,4,5,6,7,8,9,20,30,40,50,60,70,80,90,200,300,400,500,600,700,800,900],"labels":false,"title":null,"tickSize":3}},
"y":{"datum":50.45,"type":"quantitative","axis":{"orient":"left","values":[2,3,4,5,6,7,8,9,20,30,40,50,60],"labels":false,"title":null,"tickSize":3}},
"text":{"field":"t"}}}
]},
{"width":554,"height":454,
"resolve":{"axis":{"x":"independent","y":"independent"}},
"layer":[
{"data":{"values":[{"p":55.9,"p2":147.8}]},"mark":{"type":"rect","color":"#8888ff"},"encoding":{"x":{"field":"p","type":"quantitative","axis":null},"x2":{"field":"p2"}}},
{"data":{"name":"p3"},"mark":{"type":"line","strokeWidth":2,"opacity":0.7},
"encoding":{
"x":{"field":"p","type":"quantitative","scale":{"type":"log","domain":[0.753,1300],"nice":false},"axis":{"orient":"bottom","values":[1,10,100,1000],"labelExpr":"datum.value==1?'10⁰':datum.value==10?'10¹':datum.value==100?'10²':'10³'","labelPadding":9,"title":"Orbital period [d]","titlePadding":8,"tickSize":5}},
"y":{"field":"m","type":"quantitative","scale":{"type":"log","domain":[0.813,51.9],"nice":false},"axis":{"orient":"left","values":[1,10],"labelExpr":"datum.value==1?'10⁰':'10¹'","labelPadding":3,"title":null,"tickSize":5}},
"color":{"field":"s","type":"nominal","legend":null},
"strokeDash":{"field":"g","type":"nominal","legend":null}
}},
{"data":{"values":[{"t":"HD304636"}]},"mark":{"type":"rect","fill":"white","stroke":"black","strokeWidth":1.2,"cornerRadius":4},"encoding":{"x":{"datum":1.016,"type":"quantitative","axis":null},"x2":{"datum":3.274},"y":{"datum":44.22,"type":"quantitative","axis":null},"y2":{"datum":35.51}}},
{"data":{"values":[{"t":"HD304636"}]},"mark":{"type":"text","fontSize":14,"color":"black","align":"center","baseline":"middle"},"encoding":{
"x":{"datum":1.824,"type":"quantitative","axis":{"orient":"bottom","values":[0.8,0.9,2,3,4,5,6,7,8,9,20,30,40,50,60,70,80,90,200,300,400,500,600,700,800,900],"labels":false,"title":null,"tickSize":3}},
"y":{"datum":39.63,"type":"quantitative","axis":{"orient":"left","values":[0.9,2,3,4,5,6,7,8,9,20,30,40,50],"labels":false,"title":null,"tickSize":3}},
"text":{"field":"t"}}}
]}
]
}
